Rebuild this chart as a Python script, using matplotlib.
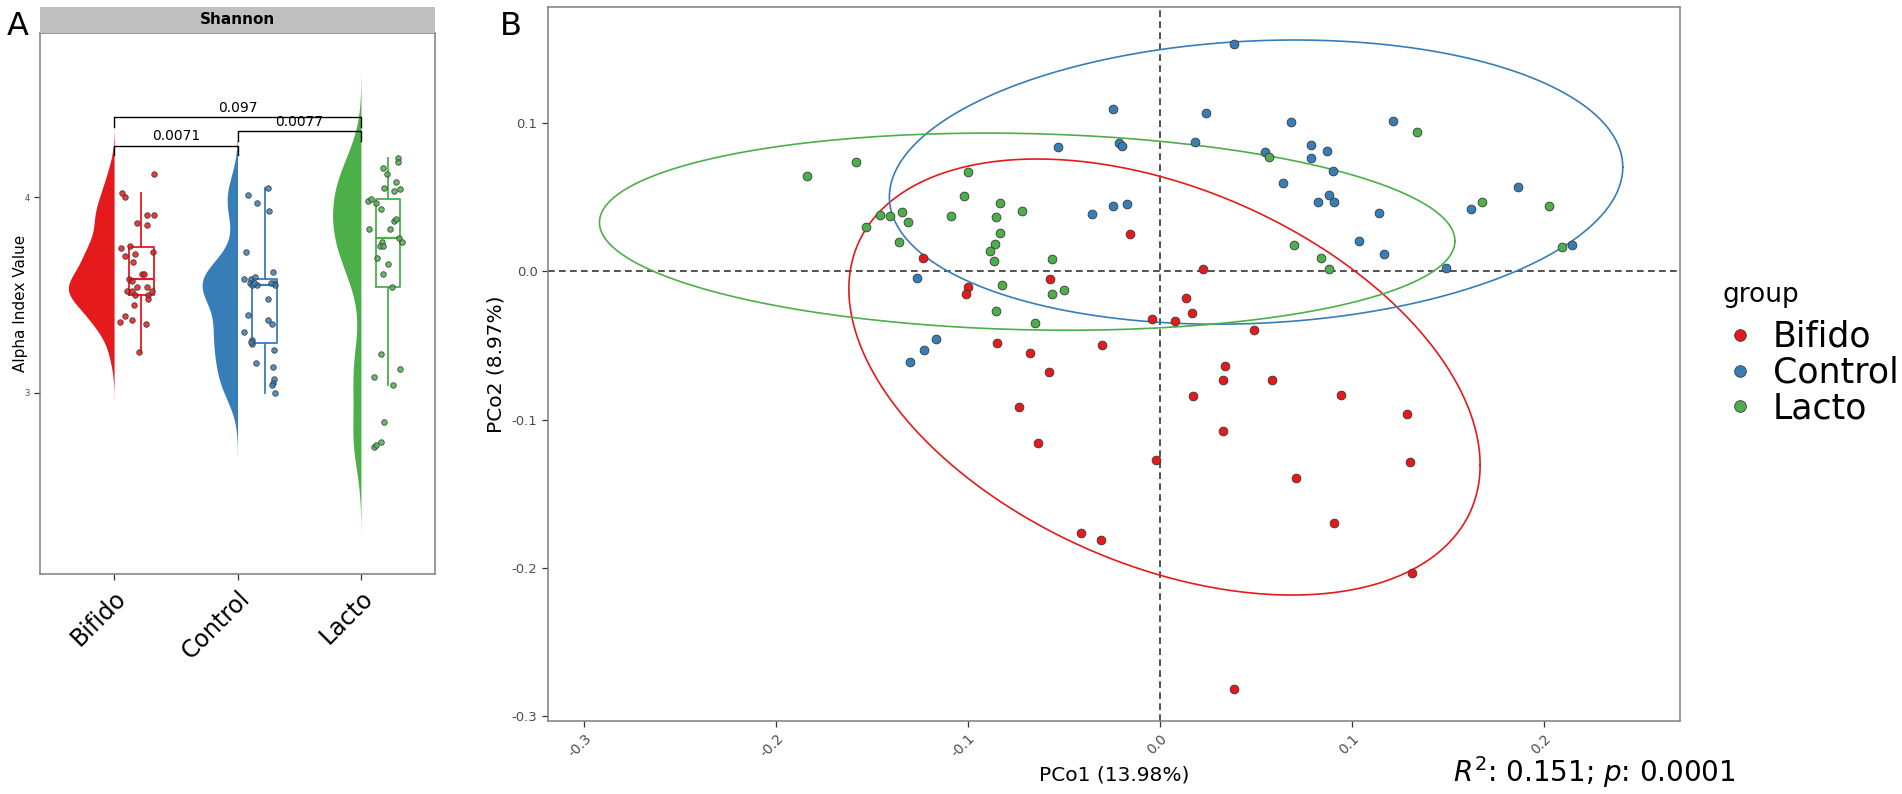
import numpy as np
import matplotlib
matplotlib.use("Agg")
import matplotlib.pyplot as plt
from matplotlib.lines import Line2D

plt.rcParams["font.family"] = ["DejaVu Sans"]
plt.rcParams["axes.unicode_minus"] = False

# ---------------- data: panel A (Shannon index) ----------------
groups = ["Bifido", "Control", "Lacto"]
colors = ["#E41A1C", "#377EB8", "#4DAF4A"]

bifido_vals = [4.12, 4.02, 4.00, 3.91, 3.91, 3.87, 3.86, 3.74, 3.75, 3.70, 3.71,
               3.72, 3.67, 3.61, 3.61, 3.58, 3.57, 3.52, 3.52, 3.54, 3.54, 3.52,
               3.50, 3.48, 3.50, 3.45, 3.39, 3.36, 3.37, 3.35, 3.21]
bifido_jit = [0.324, 0.068, 0.089, 0.265, 0.324, 0.189, 0.265, 0.054, 0.130, 0.089,
              0.170, 0.314, 0.157, 0.224, 0.246, 0.124, 0.143, 0.103, 0.143, 0.184,
              0.265, 0.305, 0.278, 0.273, 0.170, 0.165, 0.089, 0.049, 0.143, 0.257, 0.205]

control_vals = [4.01, 3.97, 4.05, 3.93, 3.72, 3.58, 3.58, 3.59, 3.62, 3.56, 3.56,
                3.55, 3.55, 3.56, 3.55, 3.56, 3.48, 3.40, 3.37, 3.35, 3.31, 3.27,
                3.25, 3.26, 3.22, 3.15, 3.13, 3.07, 3.05, 3.04, 3.00]
control_jit = [0.089, 0.162, 0.246, 0.259, 0.070, 0.049, 0.108, 0.143, 0.284, 0.297,
               0.103, 0.116, 0.157, 0.130, 0.305, 0.270, 0.251, 0.089, 0.246, 0.278,
               0.049, 0.116, 0.116, 0.108, 0.292, 0.149, 0.286, 0.292, 0.286, 0.278, 0.305]

lacto_vals = [4.20, 4.18, 4.15, 4.12, 4.08, 4.05, 4.03, 4.04, 3.98, 3.99, 3.97,
              3.94, 3.88, 3.89, 3.84, 3.84, 3.79, 3.77, 3.77, 3.75, 3.75, 3.69,
              3.66, 3.61, 3.54, 3.20, 3.12, 3.08, 3.04, 2.85, 2.75, 2.72, 2.73]
lacto_jit = [0.297, 0.300, 0.176, 0.211, 0.284, 0.186, 0.265, 0.314, 0.057, 0.084,
             0.122, 0.162, 0.270, 0.286, 0.062, 0.232, 0.305, 0.332, 0.170, 0.157,
             0.176, 0.132, 0.219, 0.181, 0.251, 0.162, 0.314, 0.105, 0.259, 0.189,
             0.165, 0.103, 0.122]

alpha_vals = [bifido_vals, control_vals, lacto_vals]
alpha_jit = [bifido_jit, control_jit, lacto_jit]

# pairwise p-values: (group i, group j, bar height, label)
comparisons = [(1, 2, 4.265, "0.0071"), (2, 3, 4.337, "0.0077"), (1, 3, 4.41, "0.097")]

# ---------------- data: panel B (PCoA) ----------------
bifido_x = [-0.1236, -0.0155, -0.0998, -0.1012, -0.0575, 0.0226, 0.0135, 0.0165,
            -0.0040, 0.0076, 0.0491, -0.0847, -0.0677, -0.0304, -0.0578, 0.0340,
            0.0330, 0.0583, 0.0170, 0.0943, -0.0733, -0.0634, -0.0019, 0.0330,
            0.0708, 0.0908, -0.0410, -0.0309, 0.0387, 0.1288, 0.1302, 0.1314]
bifido_y = [0.0093, 0.0255, -0.0103, -0.0152, -0.0053, 0.0019, -0.0177, -0.0282,
            -0.0323, -0.0332, -0.0395, -0.0485, -0.0551, -0.0494, -0.0679, -0.0639,
            -0.0735, -0.0733, -0.0841, -0.0834, -0.0913, -0.1161, -0.1274, -0.1076,
            -0.1395, -0.1697, -0.1765, -0.1812, -0.2823, -0.0963, -0.1289, -0.2039]

control_x = [0.0387, -0.0247, 0.0240, 0.0682, 0.1212, -0.0530, -0.0212, -0.0196,
             0.0184, 0.0547, 0.0788, 0.0872, 0.0788, 0.0900, 0.0641, 0.0880, 0.0823,
             0.0905, 0.1142, 0.1038, 0.1165, -0.0354, -0.0245, -0.0170, -0.1267,
             -0.1167, -0.1231, -0.1302, 0.1865, 0.1618, 0.2144, 0.1490]
control_y = [0.1535, 0.1096, 0.1073, 0.1008, 0.1017, 0.0839, 0.0866, 0.0848, 0.0875,
             0.0805, 0.0857, 0.0816, 0.0767, 0.0677, 0.0598, 0.0519, 0.0472, 0.0472,
             0.0393, 0.0208, 0.0116, 0.0389, 0.0440, 0.0458, -0.0046, -0.0458,
             -0.0528, -0.0614, 0.0569, 0.0425, 0.0177, 0.0024]

lacto_x = [-0.1837, -0.1585, -0.1533, -0.1458, -0.1406, -0.1342, -0.1313, -0.1361,
           -0.0998, -0.1021, -0.1087, -0.0835, -0.0853, -0.0717, -0.0832, -0.0858,
           -0.0884, -0.0863, -0.0564, -0.0821, -0.0561, -0.0503, -0.0854, -0.0653,
           0.0566, 0.0698, 0.0837, 0.0880, 0.1340, 0.1675, 0.2026, 0.2092]
lacto_y = [0.0645, 0.0742, 0.0299, 0.0382, 0.0377, 0.0404, 0.0332, 0.0201, 0.0672,
           0.0510, 0.0375, 0.0465, 0.0370, 0.0407, 0.0258, 0.0184, 0.0141, 0.0071,
           0.0086, -0.0093, -0.0150, -0.0123, -0.0265, -0.0348, 0.0774, 0.0181,
           0.0089, 0.0015, 0.0945, 0.0468, 0.0443, 0.0164]

pcoa_x = [bifido_x, control_x, lacto_x]
pcoa_y = [bifido_y, control_y, lacto_y]

# 95% ellipses: centre, half extent in x / y, correlation
ell_cx = [0.0023, 0.050, -0.0692]
ell_cy = [-0.0713, 0.0604, 0.0269]
ell_hx = [0.1644, 0.191, 0.2228]
ell_hy = [0.1473, 0.096, 0.0666]
ell_r = [-0.404, 0.105, -0.094]

pc1_label = "PCo1 (13.98%)"
pc2_label = "PCo2 (8.97%)"
stat_text = r"$R^2$: 0.151; $p$: 0.0001"


def nrd0(x):
    x = np.asarray(x)
    sd = x.std(ddof=1)
    q75, q25 = np.percentile(x, [75, 25])
    lo = min(sd, (q75 - q25) / 1.34)
    return 0.9 * lo * len(x) ** -0.2


def kde(x, grid, bw):
    x = np.asarray(x)[:, None]
    d = np.exp(-0.5 * ((grid[None, :] - x) / bw) ** 2).sum(axis=0)
    return d / (len(x) * bw * np.sqrt(2 * np.pi))


def main():
    fig = plt.figure(figsize=(19.02, 7.94), dpi=100)
    W, H = 1902, 794

    # ---------------- panel A ----------------
    axA = fig.add_axes([40 / W, 1 - 574 / H, 395 / W, 541 / H])
    strip = fig.add_axes([40 / W, 1 - 33 / H, 395 / W, 26 / H])
    strip.set_facecolor("#C0C0C0")
    strip.set_xticks([])
    strip.set_yticks([])
    for s in strip.spines.values():
        s.set_visible(False)
    strip.text(0.5, 0.5, "Shannon", ha="center", va="center",
               fontsize=11, fontweight="bold", transform=strip.transAxes)

    curves = []
    for vals in alpha_vals:
        bw = nrd0(vals)
        grid = np.linspace(min(vals) - 3 * bw, max(vals) + 3 * bw, 400)
        curves.append((grid, kde(vals, grid, bw)))
    dmax = max(c[1].max() for c in curves)

    for i, (vals, jit, col) in enumerate(zip(alpha_vals, alpha_jit, colors)):
        pos = i + 1
        grid, dens = curves[i]
        axA.fill_betweenx(grid, pos - dens / dmax * 0.37, pos, color=col,
                          linewidth=0, zorder=1)
        axA.boxplot([vals], positions=[pos + 0.22], widths=0.2, showfliers=False,
                    showcaps=False, manage_ticks=False,
                    boxprops=dict(color=col, linewidth=1.3),
                    whiskerprops=dict(color=col, linewidth=1.3),
                    medianprops=dict(color=col, linewidth=1.6), zorder=2)
        axA.scatter(pos + np.array(jit), vals, s=16, facecolor=col, alpha=0.85,
                    edgecolor="#333333", linewidth=0.6, zorder=3)

    for a, b, yb, lab in comparisons:
        axA.plot([a, a, b, b], [yb - 0.048, yb, yb, yb - 0.048], color="black",
                 linewidth=1.0, zorder=4)
        axA.text((a + b) / 2, yb + 0.012, lab, ha="center", va="bottom",
                 fontsize=10, zorder=4)

    axA.set_xlim(0.4, 3.6)
    axA.set_ylim(2.072, 4.841)
    axA.set_xticks([1, 2, 3])
    axA.set_xticklabels(groups, rotation=45, ha="right", va="top",
                        rotation_mode="anchor", fontsize=17)
    axA.set_yticks([3, 4])
    axA.set_yticklabels(["3", "4"], fontsize=6, color="#4D4D4D")
    axA.tick_params(axis="both", length=4, color="#333333", width=0.9)
    axA.tick_params(axis="x", pad=5)
    for s in axA.spines.values():
        s.set_color("#7F7F7F")
        s.set_linewidth(1.1)
    axA.text(-0.0506, 0.5, "Alpha Index Value", rotation=90, ha="center",
             va="center", fontsize=11, transform=axA.transAxes)

    # ---------------- panel B ----------------
    axB = fig.add_axes([548 / W, 1 - 721 / H, 1132 / W, 714 / H])
    axB.axhline(0, color="#222222", linewidth=1.1, linestyle=(0, (4.4, 2.8)), zorder=1)
    axB.axvline(0, color="#222222", linewidth=1.1, linestyle=(0, (4.4, 2.8)), zorder=1)

    t = np.linspace(0, 2 * np.pi, 200)
    for i, col in enumerate(colors):
        sxy = ell_r[i] * ell_hx[i] * ell_hy[i]
        S = np.array([[ell_hx[i] ** 2, sxy], [sxy, ell_hy[i] ** 2]])
        L = np.linalg.cholesky(S)
        pts = L @ np.vstack([np.cos(t), np.sin(t)])
        axB.plot(ell_cx[i] + pts[0], ell_cy[i] + pts[1], color=col,
                 linewidth=1.2, zorder=2)

    for i, (g, col) in enumerate(zip(groups, colors)):
        axB.scatter(pcoa_x[i], pcoa_y[i], s=40, facecolor=col,
                    edgecolor="#3A3A3A", linewidth=0.6, zorder=3)

    axB.set_xlim(-0.3188, 0.2708)
    axB.set_ylim(-0.3037, 0.1787)
    xt = [-0.3, -0.2, -0.1, 0.0, 0.1, 0.2]
    yt = [-0.3, -0.2, -0.1, 0.0, 0.1]
    axB.set_xticks(xt)
    axB.set_xticklabels([f"{v:.1f}" for v in xt], rotation=45, ha="right",
                        va="top", rotation_mode="anchor", fontsize=10,
                        color="#4D4D4D")
    axB.set_yticks(yt)
    axB.set_yticklabels([f"{v:.1f}" for v in yt], fontsize=9.5, color="#4D4D4D")
    axB.tick_params(axis="both", length=4, color="#333333", width=0.9)
    for s in axB.spines.values():
        s.set_color("#7F7F7F")
        s.set_linewidth(1.1)
    axB.text(0.5, -0.0756, pc1_label, ha="center", va="center", fontsize=14.5,
             transform=axB.transAxes)
    axB.text(-0.0459, 0.5, pc2_label, rotation=90, ha="center", va="center",
             fontsize=14.5, transform=axB.transAxes)

    # legend: title drawn as its own text, entries below it
    fig.text(1723 / W, 1 - 302 / H, "group", ha="left", va="baseline", fontsize=19)
    handles = [Line2D([], [], linestyle="none", marker="o", markersize=8.4,
                      markerfacecolor=c, markeredgecolor="#3A3A3A",
                      markeredgewidth=0.6) for c in colors]
    fig.legend(handles, groups, loc="upper left",
               bbox_to_anchor=(1723 / W, 1 - 320 / H), frameon=False,
               fontsize=25, handlelength=1.0, handletextpad=0.43,
               labelspacing=0.05, borderpad=0, borderaxespad=0)

    fig.text(1735 / W, 1 - 782 / H, stat_text, ha="right", va="baseline",
             fontsize=20)

    fig.text(7 / W, 1 - 26.5 / H, "A", ha="left", va="center", fontsize=23)
    fig.text(500 / W, 1 - 26.5 / H, "B", ha="left", va="center", fontsize=23)

    fig.savefig("out.png", dpi=100)
    plt.close(fig)


if __name__ == "__main__":
    main()
